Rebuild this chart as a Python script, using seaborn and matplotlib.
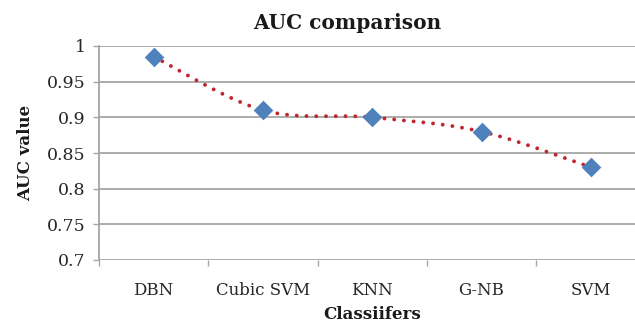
import numpy as np
import pandas as pd
import matplotlib
matplotlib.use("Agg")
import matplotlib.pyplot as plt
import seaborn as sns

categories = ["DBN", "Cubic SVM", "KNN", "G-NB", "SVM"]
auc_values = [0.985, 0.91, 0.90, 0.88, 0.83]
y_ticks = [0.7, 0.75, 0.8, 0.85, 0.9, 0.95, 1.0]
y_tick_labels = ["0.7", "0.75", "0.8", "0.85", "0.9", "0.95", "1"]

sns.set_theme(style="white")
plt.rcParams['font.family'] = ['DejaVu Serif']

W, H = 635, 329
fig = plt.figure(figsize=(W / 100, H / 100), dpi=100)
left, right, top, bottom = 99, 645.5, 46, 260
ax = fig.add_axes([left / W, 1 - bottom / H, (right - left) / W, (bottom - top) / H])

df = pd.DataFrame({"cat": categories, "auc": auc_values, "x": np.arange(len(categories))})

# Excel-like smoothed line (Catmull-Rom through the data points)
def smooth(xs, ys, n=40):
    P = np.column_stack([xs, ys]).astype(float)
    P = np.vstack([P[0], P, P[-1]])
    out = []
    for i in range(1, len(P) - 2):
        p0, p1, p2, p3 = P[i - 1], P[i], P[i + 1], P[i + 2]
        c1 = p1 + (p2 - p0) / 6
        c2 = p2 - (p3 - p1) / 6
        t = np.linspace(0, 1, n, endpoint=(i == len(P) - 3))[:, None]
        out.append((1 - t) ** 3 * p1 + 3 * (1 - t) ** 2 * t * c1 + 3 * (1 - t) * t ** 2 * c2 + t ** 3 * p2)
    return np.vstack(out)

sx = (right - left) / 5.0
sy = (bottom - top) / 0.3
curve = smooth(df["x"].values * sx, df["auc"].values * sy)
ax.plot(curve[:, 0] / sx, curve[:, 1] / sy, color="#C0262D", lw=2.8,
        linestyle=(0, (0.01, 2.5)), dash_capstyle="round", zorder=3)

sns.scatterplot(data=df, x="x", y="auc", marker="D", s=100, color="#4F81BD",
                edgecolor="#4F81BD", linewidth=0, ax=ax, zorder=4)

ax.set_xlim(-0.5, 4.5)
ax.set_ylim(0.7, 1.0)
ax.set_yticks(y_ticks)
ax.set_yticklabels(y_tick_labels)
ax.set_xticks(np.arange(len(categories)))
ax.set_xticklabels(categories)
ax.set_xticks(np.arange(-0.5, 5, 1.0), minor=True)

ax.yaxis.grid(True, color="#A6A6A6", lw=1.3)
ax.set_axisbelow(True)
for s in ["top", "right", "bottom"]:
    ax.spines[s].set_visible(False)
ax.spines["left"].set_color("#A6A6A6")
ax.spines["left"].set_linewidth(1.3)

ax.tick_params(axis="y", which="major", left=True, length=4.5, width=1.0, color="#A6A6A6",
               pad=5, labelsize=12.5, labelcolor="#262626")
ax.tick_params(axis="x", which="major", bottom=False, length=0, pad=16, labelsize=12,
               labelcolor="#262626")
ax.tick_params(axis="x", which="minor", bottom=True, length=4.5, width=1.0, color="#A6A6A6")

ax.set_xlabel("Classiifers", fontsize=12, fontweight="bold", color="#1a1a1a", labelpad=5)
ax.set_ylabel("AUC value", fontsize=12, fontweight="bold", color="#1a1a1a", labelpad=9)

fig.text(347 / W, 1 - 29 / H, "AUC comparison", ha="center", va="baseline",
         fontsize=14.5, fontweight="bold", color="#1a1a1a")

fig.savefig("out.png", dpi=100)
